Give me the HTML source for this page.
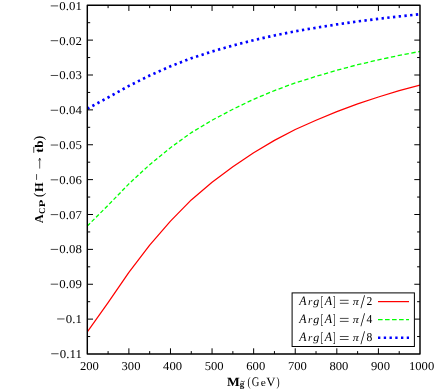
<!DOCTYPE html>
<html><head><meta charset="utf-8"><title>plot</title>
<style>html,body{margin:0;padding:0;background:#fff;}svg{display:block;will-change:transform;}text{text-rendering:geometricPrecision;font-family:"Liberation Serif",serif;fill:#000;}</style></head><body>
<svg width="436" height="391" viewBox="0 0 436 391">
<rect width="436" height="391" fill="#fff"/>
<clipPath id="cp"><rect x="87.30" y="5.25" width="332.70" height="348.75"/></clipPath><g clip-path="url(#cp)">
<path d="M87.30,331.90 L108.09,302.60 L128.89,272.30 L149.68,245.20 L170.47,221.10 L191.27,199.90 L212.06,182.30 L232.86,166.80 L253.65,152.70 L274.44,140.40 L295.24,129.50 L316.03,120.30 L336.82,111.60 L357.62,103.80 L378.41,97.00 L399.21,90.60 L420.00,85.00" fill="none" stroke="#ff0000" stroke-width="1.25" stroke-linejoin="round"/>
<path d="M87.30,226.01 L90.07,223.25 M91.70,221.63 L94.46,218.87 M96.09,217.25 L98.86,214.49 M100.49,212.87 L103.25,210.12 M104.88,208.50 L107.65,205.74 M109.25,204.10 L111.96,201.31 M113.56,199.66 L116.27,196.87 M117.86,195.23 L120.57,192.43 M122.17,190.79 L124.88,188.00 M126.47,186.36 L128.89,183.87 L129.20,183.58 M130.91,182.01 L133.81,179.34 M135.51,177.77 L138.41,175.09 M140.11,173.52 L143.01,170.85 M144.71,169.28 L147.61,166.61 M149.32,165.04 L149.68,164.71 L152.38,162.49 M154.19,161.01 L157.28,158.47 M159.10,156.99 L162.19,154.46 M164.00,152.97 L167.09,150.44 M168.91,148.95 L170.47,147.66 L172.09,146.50 M174.02,145.11 L177.31,142.74 L177.31,142.74 M179.24,141.35 L182.52,138.98 L182.52,138.98 M184.45,137.59 L187.74,135.22 L187.74,135.22 M189.67,133.83 L191.27,132.67 L193.08,131.59 M195.16,130.34 L198.70,128.22 M200.78,126.98 L204.32,124.86 M206.40,123.62 L209.95,121.50 M212.03,120.25 L212.06,120.23 L215.72,118.30 M217.89,117.16 L221.58,115.21 M223.75,114.07 L227.44,112.12 M229.61,110.98 L232.86,109.27 L233.31,109.05 M235.54,107.98 L239.34,106.16 M241.56,105.09 L245.36,103.27 M247.59,102.21 L251.38,100.39 M253.61,99.32 L253.65,99.30 L257.52,97.68 M259.83,96.71 L263.75,95.08 M266.05,94.11 L269.97,92.47 M272.27,91.51 L274.44,90.60 L276.23,89.94 M278.59,89.07 L282.60,87.58 M284.96,86.70 L288.97,85.22 M291.32,84.34 L295.24,82.89 L295.34,82.86 M297.76,82.10 L301.88,80.82 M304.30,80.06 L308.42,78.77 M310.84,78.01 L314.95,76.73 M317.38,75.99 L321.53,74.76 M323.97,74.04 L328.11,72.81 M330.55,72.09 L334.70,70.87 M337.14,70.15 L341.34,69.04 M343.80,68.39 L348.00,67.27 M350.47,66.62 L354.66,65.50 M357.13,64.85 L357.62,64.72 L361.37,63.85 M363.87,63.28 L368.12,62.29 M370.61,61.72 L374.86,60.73 M377.35,60.16 L378.41,59.91 L381.62,59.21 M384.12,58.67 L388.39,57.74 M390.90,57.20 L395.17,56.27 M397.67,55.72 L399.21,55.39 L401.96,54.86 M404.49,54.38 L408.79,53.56 M411.32,53.08 L415.62,52.26 M418.15,51.78 L420.00,51.43" fill="none" stroke="#00ff00" stroke-width="1.3" stroke-linejoin="round"/>
<path d="M87.30,108.72 L108.09,97.51 L128.89,85.92 L149.68,75.55 L170.47,66.32 L191.27,58.21 L212.06,51.48 L232.86,45.54 L253.65,40.15 L274.44,35.44 L295.24,31.27 L316.03,27.75 L336.82,24.42 L357.62,21.43 L378.41,18.83 L399.21,16.38 L420.00,14.24" fill="none" stroke="#0000ff" stroke-width="2.65" stroke-dasharray="2.35 3.4"/>
</g>
<path d="M108.09,354.00v-2.90 M108.09,5.25v2.90 M128.89,354.00v-5.70 M128.89,5.25v5.70 M149.68,354.00v-2.90 M149.68,5.25v2.90 M170.47,354.00v-5.70 M170.47,5.25v5.70 M191.27,354.00v-2.90 M191.27,5.25v2.90 M212.06,354.00v-5.70 M212.06,5.25v5.70 M232.86,354.00v-2.90 M232.86,5.25v2.90 M253.65,354.00v-5.70 M253.65,5.25v5.70 M274.44,354.00v-2.90 M274.44,5.25v2.90 M295.24,354.00v-5.70 M295.24,5.25v5.70 M316.03,354.00v-2.90 M316.03,5.25v2.90 M336.82,354.00v-5.70 M336.82,5.25v5.70 M357.62,354.00v-2.90 M357.62,5.25v2.90 M378.41,354.00v-5.70 M378.41,5.25v5.70 M399.21,354.00v-2.90 M399.21,5.25v2.90 M87.30,22.69h2.90 M420.00,22.69h-2.90 M87.30,40.12h5.70 M420.00,40.12h-5.70 M87.30,57.56h2.90 M420.00,57.56h-2.90 M87.30,75.00h5.70 M420.00,75.00h-5.70 M87.30,92.44h2.90 M420.00,92.44h-2.90 M87.30,109.88h5.70 M420.00,109.88h-5.70 M87.30,127.31h2.90 M420.00,127.31h-2.90 M87.30,144.75h5.70 M420.00,144.75h-5.70 M87.30,162.19h2.90 M420.00,162.19h-2.90 M87.30,179.62h5.70 M420.00,179.62h-5.70 M87.30,197.06h2.90 M420.00,197.06h-2.90 M87.30,214.50h5.70 M420.00,214.50h-5.70 M87.30,231.94h2.90 M420.00,231.94h-2.90 M87.30,249.38h5.70 M420.00,249.38h-5.70 M87.30,266.81h2.90 M420.00,266.81h-2.90 M87.30,284.25h5.70 M420.00,284.25h-5.70 M87.30,301.69h2.90 M420.00,301.69h-2.90 M87.30,319.12h5.70 M420.00,319.12h-5.70 M87.30,336.56h2.90 M420.00,336.56h-2.90" fill="none" stroke="#000" stroke-width="1.0"/>
<rect x="87.30" y="5.25" width="332.70" height="348.75" fill="none" stroke="#000" stroke-width="1.45" stroke-linejoin="round"/>
<text transform="translate(79.95,369.50) scale(1.050,1.000)" font-size="12">200</text>
<text transform="translate(121.54,369.50) scale(1.050,1.000)" font-size="12">300</text>
<text transform="translate(163.12,369.50) scale(1.050,1.000)" font-size="12">400</text>
<text transform="translate(204.71,369.50) scale(1.050,1.000)" font-size="12">500</text>
<text transform="translate(246.30,369.50) scale(1.050,1.000)" font-size="12">600</text>
<text transform="translate(287.89,369.50) scale(1.050,1.000)" font-size="12">700</text>
<text transform="translate(329.48,369.50) scale(1.050,1.000)" font-size="12">800</text>
<text transform="translate(371.06,369.50) scale(1.050,1.000)" font-size="12">900</text>
<text transform="translate(408.98,369.50) scale(1.050,1.000)" font-size="12">1000</text>
<text transform="translate(59.33,9.80) scale(1.070,1.000)" font-size="12">0.01</text>
<text transform="translate(59.33,44.59) scale(1.070,1.000)" font-size="12">0.02</text>
<text transform="translate(59.33,79.37) scale(1.070,1.000)" font-size="12">0.03</text>
<text transform="translate(59.33,114.16) scale(1.070,1.000)" font-size="12">0.04</text>
<text transform="translate(59.33,148.94) scale(1.070,1.000)" font-size="12">0.05</text>
<text transform="translate(59.33,183.72) scale(1.070,1.000)" font-size="12">0.06</text>
<text transform="translate(59.33,218.51) scale(1.070,1.000)" font-size="12">0.07</text>
<text transform="translate(59.33,253.30) scale(1.070,1.000)" font-size="12">0.08</text>
<text transform="translate(59.33,288.08) scale(1.070,1.000)" font-size="12">0.09</text>
<text transform="translate(65.75,322.86) scale(1.070,1.000)" font-size="12">0.1</text>
<text transform="translate(59.81,357.65) scale(1.070,1.000)" font-size="12">0.11</text>
<path d="M50.73,5.90h7.4 M50.73,40.69h7.4 M50.73,75.47h7.4 M50.73,110.26h7.4 M50.73,145.04h7.4 M50.73,179.82h7.4 M50.73,214.61h7.4 M50.73,249.40h7.4 M50.73,284.18h7.4 M57.15,318.96h7.4 M51.21,353.75h7.4" stroke="#000" stroke-width="0.72" fill="none"/>
<rect x="292.1" y="292.9" width="122.3" height="53.6" fill="#fff" stroke="#000" stroke-width="1.0"/>
<text transform="translate(299.19,304.90) scale(0.989,1.075)" font-size="12" font-style="italic">A</text>
<text transform="translate(308.10,304.90) scale(0.920,0.867)" font-size="12" font-style="italic">r</text>
<text transform="translate(313.20,305.23) scale(1.000,0.922)" font-size="12" font-style="italic">g</text>
<text transform="translate(320.80,305.67) scale(0.600,1.164)" font-size="12">[</text>
<text transform="translate(324.80,304.90) scale(1.000,1.075)" font-size="12" font-style="italic">A</text>
<text transform="translate(332.90,305.67) scale(0.600,1.164)" font-size="12">]</text>
<path d="M339.9,300.30h8.7M339.9,303.30h8.7" stroke="#000" stroke-width="0.7" fill="none"/>
<text transform="translate(352.70,304.90) scale(1.000,0.867)" font-size="12" font-style="italic">π</text>
<text transform="translate(360.40,308.00) scale(1.350,1.600)" font-size="12">/</text>
<text transform="translate(366.50,304.90) scale(0.967,1.000)" font-size="12">2</text>
<path d="M378,301.60H409" fill="none" stroke="#ff0000" stroke-width="1.25" stroke-linejoin="round"/>
<text transform="translate(299.19,323.00) scale(0.989,1.075)" font-size="12" font-style="italic">A</text>
<text transform="translate(308.10,323.00) scale(0.920,0.867)" font-size="12" font-style="italic">r</text>
<text transform="translate(313.20,323.33) scale(1.000,0.922)" font-size="12" font-style="italic">g</text>
<text transform="translate(320.80,323.77) scale(0.600,1.164)" font-size="12">[</text>
<text transform="translate(324.80,323.00) scale(1.000,1.075)" font-size="12" font-style="italic">A</text>
<text transform="translate(332.90,323.77) scale(0.600,1.164)" font-size="12">]</text>
<path d="M339.9,318.40h8.7M339.9,321.40h8.7" stroke="#000" stroke-width="0.7" fill="none"/>
<text transform="translate(352.70,323.00) scale(1.000,0.867)" font-size="12" font-style="italic">π</text>
<text transform="translate(360.40,326.10) scale(1.350,1.600)" font-size="12">/</text>
<text transform="translate(366.50,323.00) scale(0.967,1.000)" font-size="12">4</text>
<path d="M378,319.60H409" fill="none" stroke="#00ff00" stroke-width="1.25" stroke-dasharray="4.6 2.42"/>
<text transform="translate(299.19,341.10) scale(0.989,1.075)" font-size="12" font-style="italic">A</text>
<text transform="translate(308.10,341.10) scale(0.920,0.867)" font-size="12" font-style="italic">r</text>
<text transform="translate(313.20,341.43) scale(1.000,0.922)" font-size="12" font-style="italic">g</text>
<text transform="translate(320.80,341.87) scale(0.600,1.164)" font-size="12">[</text>
<text transform="translate(324.80,341.10) scale(1.000,1.075)" font-size="12" font-style="italic">A</text>
<text transform="translate(332.90,341.87) scale(0.600,1.164)" font-size="12">]</text>
<path d="M339.9,336.50h8.7M339.9,339.50h8.7" stroke="#000" stroke-width="0.7" fill="none"/>
<text transform="translate(352.70,341.10) scale(1.000,0.867)" font-size="12" font-style="italic">π</text>
<text transform="translate(360.40,344.20) scale(1.350,1.600)" font-size="12">/</text>
<text transform="translate(366.50,341.10) scale(0.967,1.000)" font-size="12">8</text>
<path d="M378,337.75H409" fill="none" stroke="#0000ff" stroke-width="2.65" stroke-dasharray="2.35 3.4"/>
<text transform="translate(227.10,385.75) scale(1.127,1.037)" font-size="12" font-weight="bold">M</text>
<text transform="translate(239.8,387.35) scale(1.05,1.0)" font-size="8.7" font-weight="bold">g</text>
<path d="M240.7,381.90q1.0,-1.1 2.0,-0.35t2.0,-0.35" stroke="#000" stroke-width="0.75" fill="none"/>
<text transform="translate(247.40,385.80) scale(0.775,1.083)" font-size="12">(</text>
<text transform="translate(251.70,385.95) scale(0.878,1.088)" font-size="12">G</text>
<text transform="translate(260.70,385.95) scale(0.960,0.900)" font-size="12">e</text>
<text transform="translate(266.20,385.95) scale(1.067,1.062)" font-size="12">V</text>
<text transform="translate(276.50,385.80) scale(0.775,1.083)" font-size="12">)</text>
<g transform="translate(42.6,223.0) rotate(-90)">
<text transform="translate(-0.30,0.00) scale(1.033,1.000)" font-size="12" font-weight="bold">A</text>
<text transform="translate(9.00,2.80) scale(1.033,1.050)" font-size="8.5" font-weight="bold">C</text>
<text transform="translate(15.80,2.70) scale(1.440,1.017)" font-size="8.5" font-weight="bold">P</text>
<text transform="translate(25.80,0.22) scale(1.200,1.125)" font-size="12">(</text>
<text transform="translate(31.10,0.00) scale(1.030,1.012)" font-size="12" font-weight="bold">H</text>
<path d="M43.1,-6.05h5.8" stroke="#000" stroke-width="0.7" fill="none"/>
<path d="M54.4,-2.9H64.6M62.6,-4.3q0.6,1.1 2.2,1.4q-1.6,0.3 -2.2,1.4" stroke="#000" stroke-width="0.65" fill="none"/>
<text transform="translate(70.30,0.10) scale(1.150,0.938)" font-size="12" font-weight="bold">t</text>
<path d="M70.2,-8.85h6.0" stroke="#000" stroke-width="0.75" fill="none"/>
<text transform="translate(75.30,0.10) scale(1.100,0.978)" font-size="12" font-weight="bold">b</text>
<text transform="translate(82.40,0.22) scale(1.200,1.125)" font-size="12">)</text>
</g>
</svg></body></html>
